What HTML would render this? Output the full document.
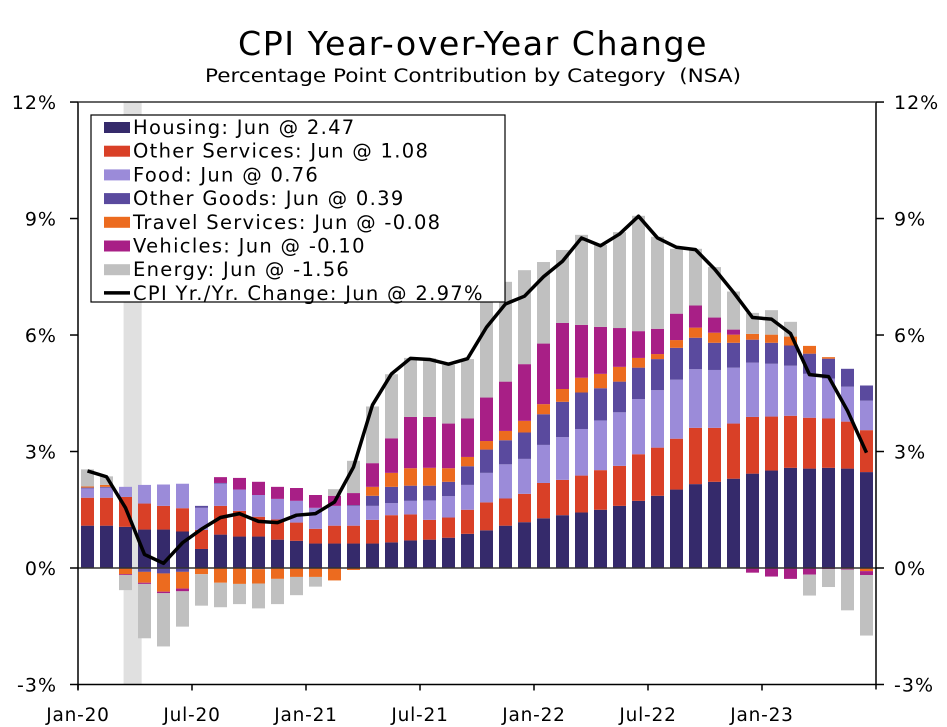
<!DOCTYPE html>
<html><head><meta charset="utf-8"><style>
body{margin:0;background:#fff;}
svg{display:block;font-family:"DejaVu Sans","Liberation Sans",sans-serif;}
</style></head><body>
<svg id="chart" width="947" height="727" viewBox="0 0 947 727">
<text x="473" y="55" text-anchor="middle" font-size="33" letter-spacing="1.5" textLength="470" lengthAdjust="spacingAndGlyphs" fill="#000">CPI Year-over-Year Change</text>
<text x="473" y="82" text-anchor="middle" font-size="18.5" textLength="536" lengthAdjust="spacingAndGlyphs" fill="#000" xml:space="preserve">Percentage Point Contribution by Category  (NSA)</text>
<g id="plot"></g>
<g id="legend"></g>
</svg>
<script>
const months=["Jan-20","Feb-20","Mar-20","Apr-20","May-20","Jun-20","Jul-20","Aug-20","Sep-20","Oct-20","Nov-20","Dec-20","Jan-21","Feb-21","Mar-21","Apr-21","May-21","Jun-21","Jul-21","Aug-21","Sep-21","Oct-21","Nov-21","Dec-21","Jan-22","Feb-22","Mar-22","Apr-22","May-22","Jun-22","Jul-22","Aug-22","Sep-22","Oct-22","Nov-22","Dec-22","Jan-23","Feb-23","Mar-23","Apr-23","May-23","Jun-23"];
const housing=[1.09,1.09,1.06,0.99,0.99,0.94,0.49,0.86,0.81,0.81,0.73,0.70,0.63,0.63,0.63,0.63,0.66,0.71,0.73,0.78,0.88,0.97,1.09,1.18,1.28,1.36,1.43,1.50,1.60,1.73,1.86,2.02,2.16,2.22,2.30,2.43,2.51,2.58,2.56,2.58,2.56,2.47];
const otherServices=[0.72,0.72,0.77,0.67,0.61,0.60,0.49,0.74,0.66,0.51,0.52,0.47,0.38,0.46,0.46,0.61,0.70,0.67,0.51,0.52,0.62,0.72,0.70,0.73,0.91,0.91,0.95,1.02,1.03,1.20,1.24,1.31,1.45,1.39,1.42,1.46,1.39,1.34,1.31,1.27,1.21,1.08];
const food=[0.24,0.26,0.26,0.48,0.55,0.63,0.57,0.58,0.55,0.56,0.53,0.56,0.54,0.51,0.51,0.36,0.31,0.35,0.50,0.55,0.64,0.76,0.88,0.90,0.98,1.10,1.20,1.28,1.38,1.42,1.48,1.52,1.51,1.49,1.44,1.40,1.36,1.29,1.13,1.03,0.90,0.76];
const otherGoods=[0.02,0.02,0.0,-0.10,-0.14,-0.10,0.05,0.01,0.0,-0.03,0.0,0.0,0.0,0.0,0.02,0.26,0.42,0.39,0.38,0.37,0.48,0.60,0.62,0.68,0.79,0.91,0.94,0.83,0.79,0.81,0.80,0.82,0.81,0.70,0.64,0.59,0.54,0.52,0.52,0.51,0.46,0.39];
const travel=[0.03,0.05,-0.16,-0.28,-0.47,-0.43,-0.16,-0.38,-0.41,-0.37,-0.28,-0.23,-0.23,-0.32,-0.05,0.23,0.36,0.45,0.46,0.35,0.24,0.22,0.24,0.30,0.26,0.33,0.38,0.37,0.38,0.25,0.13,0.20,0.26,0.26,0.21,0.15,0.21,0.23,0.20,0.04,-0.02,-0.08];
const vehicles=[0,0,-0.02,-0.03,-0.04,-0.07,0,0.15,0.30,0.34,0.31,0.33,0.33,0.26,0.31,0.61,0.89,1.32,1.31,1.15,0.99,1.12,1.27,1.46,1.56,1.70,1.36,1.21,1.00,0.69,0.65,0.68,0.57,0.39,0.13,-0.12,-0.22,-0.28,-0.17,-0.03,-0.02,-0.10];
const energy=[0.44,0.22,-0.39,-1.40,-1.37,-0.91,-0.81,-0.63,-0.52,-0.64,-0.65,-0.47,-0.25,0.17,0.83,1.46,1.65,1.52,1.51,1.51,1.53,2.51,2.57,2.42,2.10,1.88,2.32,2.11,2.47,2.97,2.37,1.67,1.46,1.30,0.98,0.54,0.63,0.38,-0.54,-0.46,-1.05,-1.56];
const cpi=[2.5,2.35,1.55,0.35,0.12,0.65,1.0,1.3,1.4,1.2,1.17,1.36,1.4,1.7,2.6,4.2,5.0,5.4,5.37,5.25,5.39,6.2,6.8,7.0,7.5,7.9,8.5,8.3,8.6,9.06,8.5,8.26,8.2,7.7,7.1,6.45,6.41,6.04,4.98,4.93,4.05,2.97];
const yTicks=[-3,0,3,6,9,12];
const xTickLabels=["Jan-20","Jul-20","Jan-21","Jul-21","Jan-22","Jul-22","Jan-23"];
const seriesNames=["Housing","Other Services","Food","Other Goods","Travel Services","Vehicles","Energy"];
const seriesColors=["#352a6b","#d94027","#9b8bd9","#5a4a9e","#ec6b1f","#a81f86","#c0c0c0"];
const series=[housing,otherServices,food,otherGoods,travel,vehicles,energy];

const X0=78,X1=876,Y0=568,PPU=38.83,STEP=(X1-X0)/months.length;
const y=v=>Y0-v*PPU;
const xc=i=>X0+STEP*(i+0.5);
const NS="http://www.w3.org/2000/svg";
const plot=document.getElementById('plot');
function mk(tag,attrs,parent){const e=document.createElementNS(NS,tag);for(const k in attrs)e.setAttribute(k,attrs[k]);(parent||plot).appendChild(e);return e;}

const rs=mk('rect',{x:X0+STEP*2.4,y:y(12),width:STEP*0.95,height:y(-3)-y(12),fill:"#e0e0e0"});



const bw=13;
months.forEach((m,i)=>{
  let pos=0,neg=0;
  series.forEach((s,k)=>{
    const v=s[i]; if(!v) return;
    let top,bot;
    if(v>0){bot=pos;top=pos+v;pos=top;}else{top=neg;bot=neg+v;neg=bot;}
    const r=mk('rect',{x:xc(i)-bw/2,y:y(top),width:bw,height:Math.max(0.5,y(bot)-y(top)),fill:seriesColors[k]});
    
    
  });
});

const zl=mk('line',{x1:X0,x2:X1,y1:Y0,y2:Y0,stroke:"#333",'stroke-width':1.5});



const pts=cpi.map((v,i)=>xc(i)+","+y(v)).join(" ");
const cl=mk('polyline',{points:pts,fill:"none",stroke:"#000",'stroke-width':3.5,'stroke-linejoin':"round"});



const axL=mk('line',{x1:X0,x2:X0,y1:y(12),y2:y(-3)+5,stroke:"#000",'stroke-width':1.5});


const axR=mk('line',{x1:X1,x2:X1,y1:y(12),y2:y(-3)+5,stroke:"#000",'stroke-width':1.5});


const axT=mk('line',{x1:X0,x2:X1,y1:y(12),y2:y(12),stroke:"#333",'stroke-width':1.5});


const axB=mk('line',{x1:X0,x2:X1,y1:y(-3),y2:y(-3),stroke:"#000",'stroke-width':1.5});



yTicks.forEach(t=>{
  mk('line',{x1:X0-8,x2:X0,y1:y(t),y2:y(t),stroke:"#000",'stroke-width':1.5});
  mk('line',{x1:X1,x2:X1+8,y1:y(t),y2:y(t),stroke:"#000",'stroke-width':1.5});
  const l=mk('text',{x:X0-21,y:y(t)+7,'text-anchor':"end",'font-size':19,'letter-spacing':1});
  l.textContent=t+"%";
  
  
  const r=mk('text',{x:X1+18,y:y(t)+7,'text-anchor':"start",'font-size':19,'letter-spacing':1});
  r.textContent=t+"%";
  
  
});
xTickLabels.forEach(lbl=>{
  const i=months.indexOf(lbl);
  const xx=X0+STEP*i;
  mk('line',{x1:xx,x2:xx,y1:y(-3),y2:y(-3)+6,stroke:"#000",'stroke-width':1.5});
  const t=mk('text',{x:xx,y:721,'text-anchor':"middle",'font-size':18.5,'letter-spacing':0.8});
  t.textContent=lbl;
  
  
});

const lg=document.getElementById('legend');
mk('rect',{x:91,y:115,width:414,height:187,fill:"#fff",stroke:"#000",'stroke-width':1.2},lg);
const last=months.length-1;
seriesNames.forEach((n,k)=>{
  const cy=127+k*23.7;
  const sw=mk('rect',{x:104,y:cy-5,width:26,height:11,fill:seriesColors[k]},lg);
  
  
  const t=mk('text',{x:133,y:cy+7,'font-size':19.5,'letter-spacing':1.3},lg);
  t.textContent=n+": Jun @ "+series[k][last].toFixed(2);
  
  
});
const cy=127+7*23.7;
mk('line',{x1:104,x2:130,y1:cy,y2:cy,stroke:"#000",'stroke-width':3.5},lg);
const lt=mk('text',{x:133,y:cy+7,'font-size':19.5,'letter-spacing':1.3},lg);
lt.textContent="CPI Yr./Yr. Change: Jun @ "+cpi[last].toFixed(2)+"%";


</script>
</body></html>
